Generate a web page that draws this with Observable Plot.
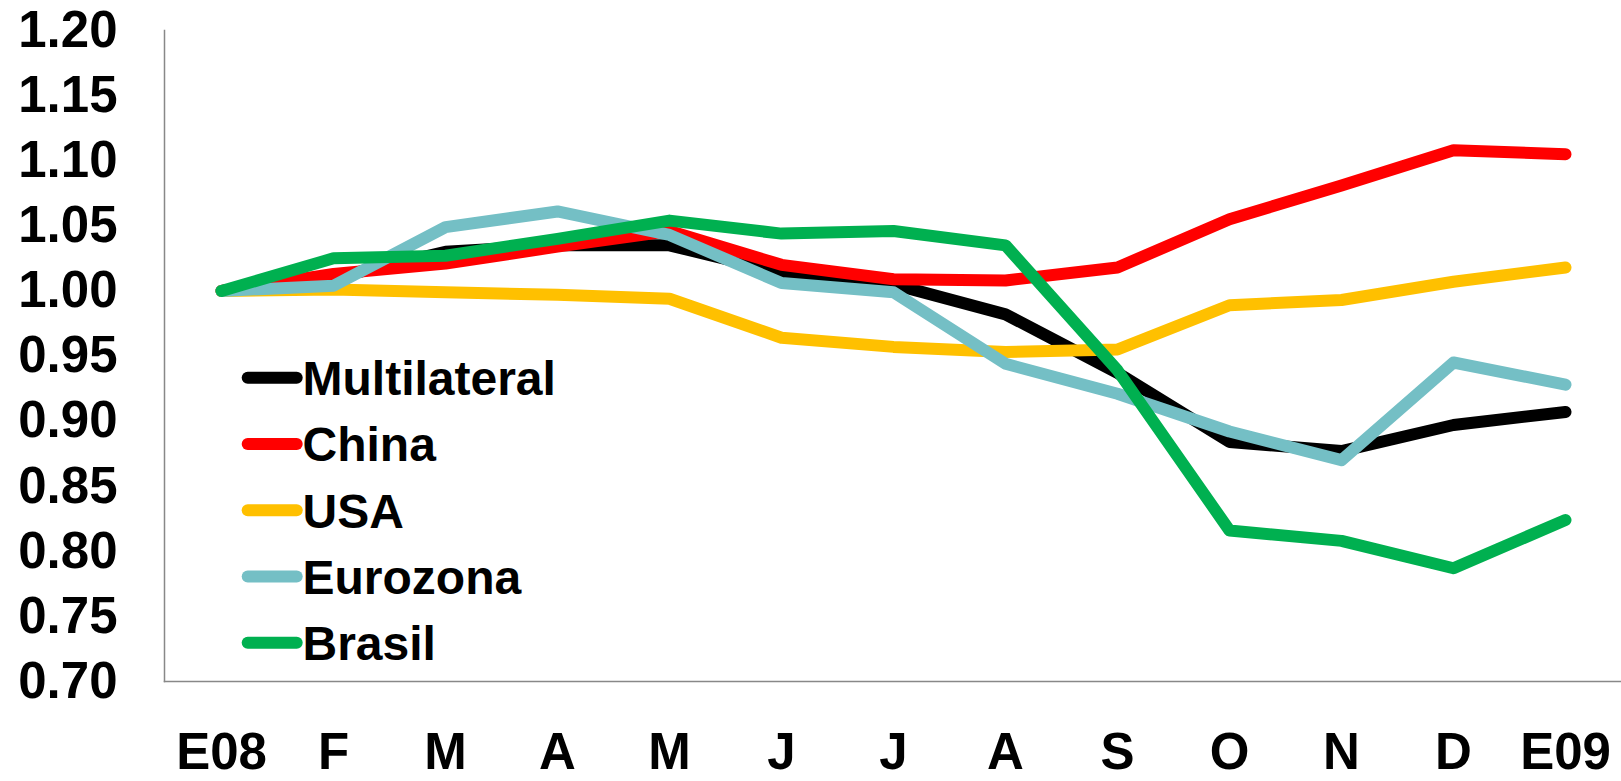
<!DOCTYPE html>
<html>
<head>
<meta charset="utf-8">
<script src="https://cdn.jsdelivr.net/npm/d3@7"></script>
<script src="https://cdn.jsdelivr.net/npm/@observablehq/plot@0.6"></script>
<style>
  html, body { margin: 0; padding: 0; background: #fff; }
  #wrap { position: relative; width: 1621px; height: 781px; }
  #legend { position: absolute; left: 0; top: 0; pointer-events: none; }
</style>
</head>
<body>
<div id="wrap"></div>
<script>
const months = ["E08","F","M","A","M","J","J","A","S","O","N","D","E09"];
const seriesNames = ["Multilateral","China","USA","Eurozona","Brasil"];
const seriesColors = ["#000000","#FF0000","#FFC000","#74BFC5","#00B050"];
const multilateral = [1.000, 1.010, 1.030, 1.035, 1.035, 1.014, 1.005, 0.982, 0.937, 0.884, 0.877, 0.897, 0.907];
const china        = [1.000, 1.013, 1.021, 1.034, 1.046, 1.020, 1.009, 1.008, 1.018, 1.055, 1.081, 1.108, 1.105];
const usa          = [1.000, 1.001, 0.999, 0.997, 0.994, 0.964, 0.957, 0.953, 0.955, 0.989, 0.993, 1.007, 1.018];
const eurozona     = [1.000, 1.004, 1.049, 1.061, 1.043, 1.006, 0.999, 0.944, 0.921, 0.892, 0.870, 0.945, 0.928];
const brasil       = [1.000, 1.025, 1.027, 1.040, 1.054, 1.044, 1.046, 1.035, 0.939, 0.816, 0.808, 0.787, 0.824];
const yTicks = [0.70, 0.75, 0.80, 0.85, 0.90, 0.95, 1.00, 1.05, 1.10, 1.15, 1.20];

const allSeries = [multilateral, china, usa, eurozona, brasil];
const rows = [];
allSeries.forEach((vals, s) => vals.forEach((v, i) => rows.push({series: seriesNames[s], i, value: v})));

const plot = Plot.plot({
  width: 1621,
  height: 781,
  marginLeft: 164,
  marginRight: 0,
  marginTop: 30,
  marginBottom: 100,
  style: {fontFamily: "'Liberation Sans', Arial, sans-serif", fontSize: "51px", fontWeight: "bold", color: "#000", background: "#fff"},
  x: {type: "point", domain: d3.range(months.length), padding: 0.5},
  y: {domain: [0.7, 1.2]},
  color: {domain: seriesNames, range: seriesColors},
  marks: [
    Plot.axisY({ticks: yTicks, tickFormat: d3.format(".2f"), tickSize: 0, tickPadding: 47, label: null, fontSize: 51, fontWeight: "bold"}),
    Plot.axisX({tickFormat: i => months[i], tickSize: 0, tickPadding: 51, label: null, fontSize: 51, fontWeight: "bold"}),
    Plot.frame({anchor: "left", stroke: "#888", strokeWidth: 1.5}),
    Plot.frame({anchor: "bottom", stroke: "#888", strokeWidth: 1.5}),
    Plot.lineY(rows, {x: "i", y: "value", z: "series", stroke: "series", strokeWidth: 12, strokeLinejoin: "round", strokeLinecap: "round"})
  ]
});
document.getElementById("wrap").appendChild(plot);

// Legend overlay
const legend = d3.select("#wrap").append("svg")
  .attr("id", "legend").attr("width", 1621).attr("height", 781);
const lx0 = 247.7, lx1 = 296.7, ly0 = 377.7, lstep = 66.25;
const g = legend.selectAll("g").data(seriesNames).join("g")
  .attr("transform", (d, k) => `translate(0,${ly0 + k * lstep})`);
g.append("line").attr("x1", lx0).attr("x2", lx1).attr("y1", 0).attr("y2", 0)
  .attr("stroke", (d, k) => seriesColors[k]).attr("stroke-width", 12).attr("stroke-linecap", "round");
g.append("text").attr("x", 302.5).attr("y", 17.3).text(d => d)
  .attr("font-family", "'Liberation Sans', Arial, sans-serif").attr("font-weight", "bold").attr("font-size", 48).attr("fill", "#000");
</script>
</body>
</html>
